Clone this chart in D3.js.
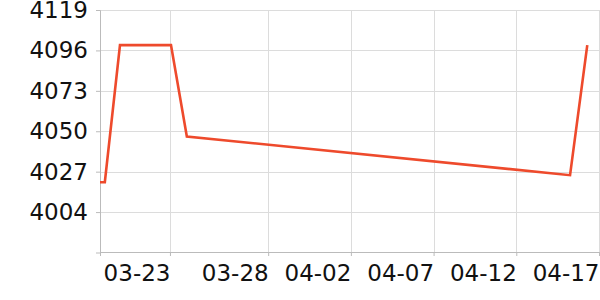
<!DOCTYPE html>
<html>
<head>
<meta charset="utf-8">
<script src="https://cdnjs.cloudflare.com/ajax/libs/d3/7.8.5/d3.min.js"></script>
<style>
  body { margin: 0; background: #fff; }
  text { font-family: "DejaVu Sans", sans-serif; }
</style>
</head>
<body>
<svg id="chart"></svg>
<script>
const times = ["2020-03-17T20:00", "2020-03-18T03:00", "2020-03-19T01:00", "2020-03-22T03:00",
               "2020-03-23T02:00", "2020-04-15T06:00", "2020-04-16T07:00"];
const values = [4021, 4021, 4099, 4099, 4047, 4025, 4099];

const xTickTimes = ["2020-03-22T01:30", "2020-03-28T00:00", "2020-04-02T00:00",
                    "2020-04-07T00:00", "2020-04-12T00:00", "2020-04-17T00:00"];
const xTickLabels = ["03-23", "03-28", "04-02", "04-07", "04-12", "04-17"];
const yTicks = [4004, 4027, 4050, 4073, 4096, 4119];

let width = 600, height = 300;
const margin = {top: 10, right: 1, bottom: 48, left: 100};

const parse = d3.timeParse("%Y-%m-%dT%H:%M");
const data = times.map((t, i) => ({t: parse(t), v: values[i]}));

const svg = d3.select("#chart")
    .attr("width", width)
    .attr("height", height);

const x = d3.scaleTime()
    .domain([parse("2020-03-17T20:00"), parse("2020-04-17T00:00")])
    .range([margin.left, width - margin.right]);

const y = d3.scaleLinear()
    .domain([3981, 4119])
    .range([height - margin.bottom + 0.5, margin.top]);

// grid
svg.append("g")
    .selectAll("line")
    .data(yTicks)
    .enter()
    .append("line")
    .attr("x1", margin.left).attr("x2", width)
    .attr("y1", d => Math.round(y(d)) + 0.5).attr("y2", d => Math.round(y(d)) + 0.5)
    .attr("stroke", "#dcdcdc");

svg.append("g")
    .selectAll("line")
    .data(xTickTimes.map(parse))
    .enter()
    .append("line")
    .attr("x1", d => Math.round(x(d)) + 0.5).attr("x2", d => Math.round(x(d)) + 0.5)
    .attr("y1", margin.top).attr("y2", height - margin.bottom)
    .attr("stroke", "#dcdcdc");

// axes
const xAxis = d3.axisBottom(x)
    .tickValues(xTickTimes.map(parse))
    .tickFormat((d, i) => xTickLabels[i])
    .tickSizeOuter(0)
    .tickSize(4)
    .tickPadding(9);

const gx = svg.append("g")
    .attr("transform", `translate(0,${height - margin.bottom})`)
    .call(xAxis);
gx.selectAll("text")
    .attr("text-anchor", "end")
    .attr("font-size", 23)
    .attr("font-family", "DejaVu Sans")
    .attr("fill", "#111");
gx.append("line")
    .attr("x1", margin.left + 0.5).attr("x2", margin.left + 0.5)
    .attr("y1", 0).attr("y2", 4)
    .attr("stroke", "#bbb");

const yAxis = d3.axisLeft(y)
    .tickValues(yTicks)
    .tickFormat(d3.format("d"))
    .tickSizeOuter(0)
    .tickSize(4)
    .tickPadding(8);

const gy = svg.append("g")
    .attr("transform", `translate(${margin.left},0)`)
    .call(yAxis);
gy.selectAll("text")
    .attr("font-size", 23)
    .attr("font-family", "DejaVu Sans")
    .attr("fill", "#111");

svg.selectAll(".domain, .tick line").attr("stroke", "#bbb");

// line
const line = d3.line()
    .x(d => x(d.t))
    .y(d => y(d.v));

svg.append("path")
    .datum(data)
    .attr("fill", "none")
    .attr("stroke", "#ee4a2c")
    .attr("stroke-width", 2.6)
    .attr("stroke-linejoin", "miter")
    .attr("d", line);
</script>
</body>
</html>
